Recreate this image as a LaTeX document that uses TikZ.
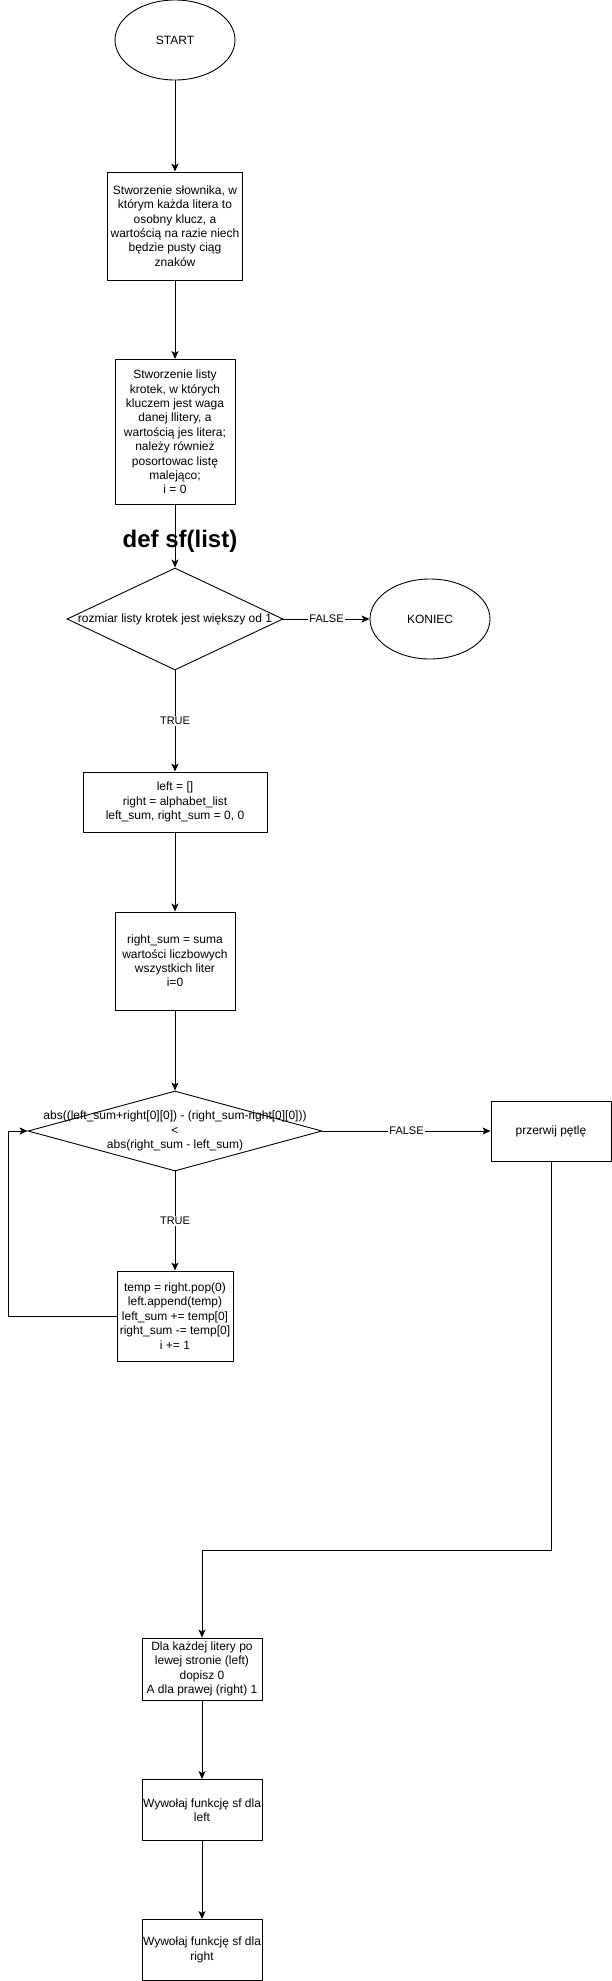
\documentclass[tikz,border=0pt]{standalone}
\usepackage{fontspec}
\setmainfont{Liberation Sans}
\usetikzlibrary{shapes.geometric,arrows.meta,positioning}

\begin{document}
\begin{tikzpicture}[x=1pt,y=-1pt,->,>={Stealth[length=8pt,width=7pt,inset=2pt]},line width=0.9pt,
   every node/.style={font=\fontsize{12}{14.4}\selectfont,align=center},
   box/.style={draw,rectangle,inner sep=0pt},
   term/.style={draw,ellipse,minimum width=120pt,minimum height=80pt},
   choice/.style={draw,diamond,inner sep=0pt},
   lbl/.style={fill=white,inner sep=1pt,font=\fontsize{11}{13}\selectfont}]
  \useasboundingbox (0,0) rectangle (612,1981);
  % main column
  \node[term] (start) at (175,40) {START};
  \node[box,minimum width=135pt,minimum height=108pt] (dict) at (175,226)
    {Stworzenie słownika, w\\którym każda litera to\\osobny klucz, a\\wartością na razie niech\\będzie pusty ciąg\\znaków};
  \node[box,minimum width=120pt,minimum height=145pt] (tuples) at (175,432)
    {Stworzenie listy\\krotek, w których\\kluczem jest waga\\danej llitery, a\\wartością jes litera;\\należy również\\posortowac listę\\malejąco;\\i = 0};
  \node[font=\bfseries\fontsize{24}{28}\selectfont] (defsf) at (180,541) {def sf(list)};
  \node[choice,minimum width=216pt,minimum height=102pt] (size) at (175,619) {};
  \node (sizetxt) at (size) {rozmiar listy krotek jest większy od 1};
  \node[term] (end) at (430,619) {KONIEC};
  \node[box,minimum width=184pt,minimum height=60pt] (init) at (175,802)
    {left = []\\right = alphabet\_list\\left\_sum, right\_sum = 0, 0};
  \node[box,minimum width=120pt,minimum height=98pt] (rsum) at (175,961)
    {right\_sum = suma\\wartości liczbowych\\wszystkich liter\\i=0};
  % loop
  \node[choice,minimum width=294pt,minimum height=80pt] (cmp) at (175,1131) {};
  \node (cmptxt) at (cmp) {abs((left\_sum+right[0][0]) - (right\_sum-right[0][0]))\\<\\abs(right\_sum - left\_sum)};
  \node[box,minimum width=120pt,minimum height=60pt] (brk) at (551,1131) {przerwij pętlę};
  \node[box,minimum width=116pt,minimum height=90pt] (move) at (175,1316)
    {temp = right.pop(0)\\left.append(temp)\\left\_sum += temp[0]\\right\_sum -= temp[0]\\i += 1};
  % after loop
  \node[box,minimum width=120pt,minimum height=62pt] (bits) at (202,1669)
    {Dla każdej litery po\\lewej stronie (left)\\dopisz 0\\A dla prawej (right) 1};
  \node[box,minimum width=120pt,minimum height=61pt] (callleft) at (202,1810)
    {Wywołaj funkcję sf dla\\left};
  \node[box,minimum width=120pt,minimum height=61pt] (callright) at (202,1950)
    {Wywołaj funkcję sf dla\\right};
  \coordinate (back) at (8,1316);
  \coordinate (turn) at (551,1550);

  \draw (start) -- (dict);
  \draw (dict) -- (tuples);
  \draw (tuples) -- (size);
  \draw (size) -- node[lbl]{FALSE} (end);
  \draw (size) -- node[lbl]{TRUE} (init);
  \draw (init) -- (rsum);
  \draw (rsum) -- (cmp);
  \draw (cmp) -- node[lbl]{FALSE} (brk);
  \draw (cmp) -- node[lbl]{TRUE} (move);
  \draw (move.west) -- (back) |- (cmp.west);
  \draw (brk.south) -- (turn) -| (bits.north);
  \draw (bits) -- (callleft);
  \draw (callleft) -- (callright);
\end{tikzpicture}
\end{document}
